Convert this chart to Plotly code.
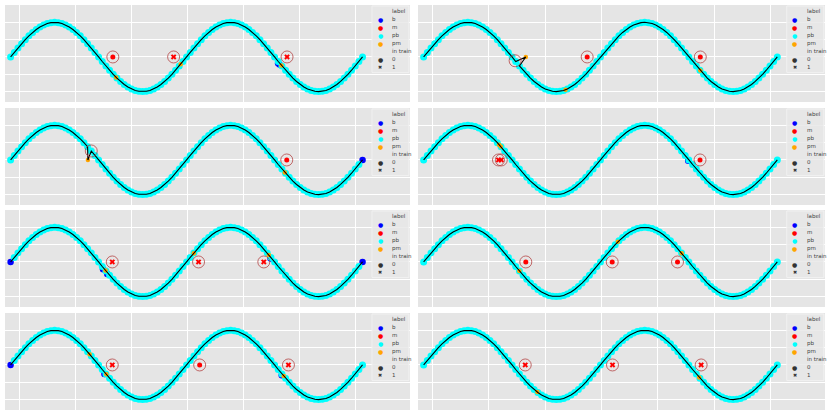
"""Eight panels: sine sequence with point labels (b / m / pb / pm) and training flag."""
import plotly.graph_objects as go

BG = "#E5E5E5"
RING = "rgba(178,60,60,0.75)"
COLORS = {"b": "#0000FF", "m": "#FF0000", "pb": "#00FFFF", "pm": "#FFA500"}
FONT = "DejaVu Sans, sans-serif"

# shared base sequence
SIN_X = [
    0.000, 0.131, 0.262, 0.393, 0.524, 0.654, 0.785, 0.916, 1.047, 1.178, 1.309, 1.440,
    1.571, 1.702, 1.833, 1.963, 2.094, 2.225, 2.356, 2.487, 2.618, 2.749, 2.880, 3.011,
    3.142, 3.272, 3.403, 3.534, 3.665, 3.796, 3.927, 4.058, 4.189, 4.320, 4.451, 4.581,
    4.712, 4.843, 4.974, 5.105, 5.236, 5.367, 5.498, 5.629, 5.760, 5.890, 6.021, 6.152,
    6.283, 6.414, 6.545, 6.676, 6.807, 6.938, 7.069, 7.199, 7.330, 7.461, 7.592, 7.723,
    7.854, 7.985, 8.116, 8.247, 8.378, 8.508, 8.639, 8.770, 8.901, 9.032, 9.163, 9.294,
    9.425, 9.556, 9.687, 9.817, 9.948, 10.079, 10.210, 10.341, 10.472, 10.603, 10.734, 10.865,
    10.996, 11.126, 11.257, 11.388, 11.519, 11.650, 11.781, 11.912, 12.043, 12.174, 12.305, 12.435,
    12.566,
]
SIN_Y = [
    0.000, 0.131, 0.259, 0.383, 0.500, 0.609, 0.707, 0.793, 0.866, 0.924, 0.966, 0.991,
    1.000, 0.991, 0.966, 0.924, 0.866, 0.793, 0.707, 0.609, 0.500, 0.383, 0.259, 0.131,
    0.000, -0.131, -0.259, -0.383, -0.500, -0.609, -0.707, -0.793, -0.866, -0.924, -0.966, -0.991,
    -1.000, -0.991, -0.966, -0.924, -0.866, -0.793, -0.707, -0.609, -0.500, -0.383, -0.259, -0.131,
    0.000, 0.131, 0.259, 0.383, 0.500, 0.609, 0.707, 0.793, 0.866, 0.924, 0.966, 0.991,
    1.000, 0.991, 0.966, 0.924, 0.866, 0.793, 0.707, 0.609, 0.500, 0.383, 0.259, 0.131,
    0.000, -0.131, -0.259, -0.383, -0.500, -0.609, -0.707, -0.793, -0.866, -0.924, -0.966, -0.991,
    -1.000, -0.991, -0.966, -0.924, -0.866, -0.793, -0.707, -0.609, -0.500, -0.383, -0.259, -0.131,
    0.000,
]

# per panel (row-major, left then right)
PM_X = [[3.77, 6.07, 9.67], [3.63, 5.04, 9.83], [2.76, 9.79], [2.68, 2.74],
        [3.39, 6.54, 9.22], [3.40, 6.90, 9.17], [2.82, 3.42, 9.75], [4.04, 9.79]]
PM_Y = [[-0.59, -0.21, -0.25], [0.00, -0.95, -0.39], [0.00, -0.36], [0.44, 0.39],
        [-0.25, 0.25, 0.20], [-0.26, 0.58, 0.25], [0.31, -0.27, -0.32], [-0.78, -0.36]]
B_X = [[9.55, 9.60], [], [12.566], [9.40],
       [0.0, 3.30, 3.45, 9.28, 12.566], [], [0.0, 3.35, 9.68], []]
B_Y = [[-0.18, -0.22], [], [0.0], [-0.02],
       [0.0, -0.21, -0.35, 0.10, 0.0], [], [0.0, -0.26, -0.30], []]
M_X = [[3.65, 5.82, 9.87], [5.81, 9.83], [9.86], [2.66, 2.76, 9.82],
       [3.63, 6.71, 9.04], [3.63, 6.70, 9.02], [3.63, 6.75, 9.92], [3.61, 6.71, 9.86]]
M_Y = [[0, 0, 0], [0, 0], [0], [0, 0, 0], [0, 0, 0], [0, 0, 0], [0, 0, 0], [0, 0, 0]]
M_TRAIN = [[0, 1, 1], [0, 0], [0], [1, 1, 0], [1, 1, 1], [0, 0, 0], [1, 0, 1], [1, 1, 1]]
# circled points that are not m
EXTRA_RING_X = [[], [3.25], [2.88], [], [], [], [], []]
EXTRA_RING_Y = [[], [-0.11], [0.26], [], [], [], [], []]
# off-curve points in the sequence: (position in sequence, x, y)
LOOP_AT = [[], [3.34], [2.80], [], [], [], [], []]
LOOP_X = [[], [3.63], [2.76], [], [], [], [], []]
LOOP_Y = [[], [0.00], [0.00], [], [], [], [], []]

X_GRID = [0.32, 2.32, 4.32, 6.32, 8.32, 10.32, 12.32]
Y_GRID = [-1, -0.5, 0, 0.5, 1]
LEGEND_TEXT = ["label", "b", "m", "pb", "pm", "in train", "0", "1"]
LEGEND_MARK = [None, ("●", COLORS["b"]), ("●", COLORS["m"]), ("●", COLORS["pb"]),
               ("●", COLORS["pm"]), None, ("●", "#333333"), ("✖", "#333333")]

W, H = 830, 414
COL_PX = [(5, 410), (418, 825)]
ROW_PX = [(5, 102), (108, 205), (210, 307), (313, 410)]

fig = go.Figure()
for i in range(8):
    sfx = "" if i == 0 else str(i + 1)
    xa, ya = "x" + sfx, "y" + sfx
    r, c = divmod(i, 2)

    # hue order b, pb, pm: base points labelled b are not drawn as pb
    fig.add_trace(go.Scatter(x=B_X[i], y=B_Y[i], xaxis=xa, yaxis=ya, mode="markers",
                             marker=dict(color=COLORS["b"], size=6.5, line_width=0),
                             showlegend=False))
    pb = [(x, y) for x, y in zip(SIN_X, SIN_Y) if x not in B_X[i]]
    fig.add_trace(go.Scatter(x=[p[0] for p in pb], y=[p[1] for p in pb], xaxis=xa, yaxis=ya,
                             mode="markers",
                             marker=dict(color=COLORS["pb"], size=7, line_width=0),
                             hoverinfo="skip", showlegend=False))
    fig.add_trace(go.Scatter(x=PM_X[i], y=PM_Y[i], xaxis=xa, yaxis=ya, mode="markers",
                             marker=dict(color=COLORS["pm"], size=4.5, line_width=0),
                             showlegend=False))

    # black sequence line, off-curve points spliced in
    seq = sorted([(x, x, y) for x, y in zip(SIN_X, SIN_Y)]
                 + list(zip(LOOP_AT[i], LOOP_X[i], LOOP_Y[i])))
    fig.add_trace(go.Scatter(x=[s[1] for s in seq], y=[s[2] for s in seq],
                             xaxis=xa, yaxis=ya, mode="lines",
                             line=dict(color="#000000", width=1.1),
                             hoverinfo="skip", showlegend=False))

    fig.add_trace(go.Scatter(
        x=M_X[i], y=M_Y[i], xaxis=xa, yaxis=ya, mode="markers",
        marker=dict(color=COLORS["m"], line_width=0, size=5,
                    symbol=["x" if t else "circle" for t in M_TRAIN[i]]),
        showlegend=False))
    fig.add_trace(go.Scatter(
        x=M_X[i] + EXTRA_RING_X[i], y=M_Y[i] + EXTRA_RING_Y[i], xaxis=xa, yaxis=ya,
        mode="markers",
        marker=dict(symbol="circle-open", size=12, color=RING, line=dict(width=1, color=RING)),
        hoverinfo="skip", showlegend=False))

    x0, x1 = COL_PX[c]
    top, bot = ROW_PX[r]
    fig.layout["xaxis" + sfx] = dict(
        domain=[x0 / W, x1 / W], anchor=ya, range=[-0.2, 14.26],
        tickvals=X_GRID, showticklabels=False, ticks="", gridcolor="white",
        gridwidth=1, zeroline=False, showline=False)
    fig.layout["yaxis" + sfx] = dict(
        domain=[1 - bot / H, 1 - top / H], anchor=xa, range=[-1.30, 1.50],
        tickvals=Y_GRID, showticklabels=False, ticks="", gridcolor="white",
        gridwidth=1, zeroline=False, showline=False)

    # legend, drawn by hand so it fits the short panels
    xr, yr = xa + " domain", ya + " domain"
    fig.add_shape(type="rect", xref=xr, yref=yr, x0=0.906, x1=0.9975, y0=0.305, y1=0.99,
                  fillcolor="rgba(232,232,232,0.85)", line=dict(color="#F4F4F4", width=0.8))
    for k, (txt, mark) in enumerate(zip(LEGEND_TEXT, LEGEND_MARK)):
        yy = 1 - (6 + 8 * k) / 97
        fig.add_annotation(xref=xr, yref=yr, x=0.951, y=yy, text=txt, showarrow=False,
                           xanchor="left", yanchor="middle",
                           font=dict(family=FONT, size=5.5, color="#444444"))
        if mark:
            fig.add_annotation(xref=xr, yref=yr, x=0.926, y=yy, text=mark[0], showarrow=False,
                               xanchor="center", yanchor="middle",
                               font=dict(family=FONT, size=6 if mark[0] == "●" else 5,
                                         color=mark[1]))

fig.update_layout(
    width=W, height=H, margin=dict(l=0, r=0, t=0, b=0),
    paper_bgcolor="white", plot_bgcolor=BG,
    font=dict(family=FONT, size=6, color="#444444"),
    showlegend=False,
)
# page has a default body margin; drop it so the figure sits at the window corner
fig.write_html("out.html", config={"displayModeBar": False},
               post_script="document.body.style.margin = '0';")
